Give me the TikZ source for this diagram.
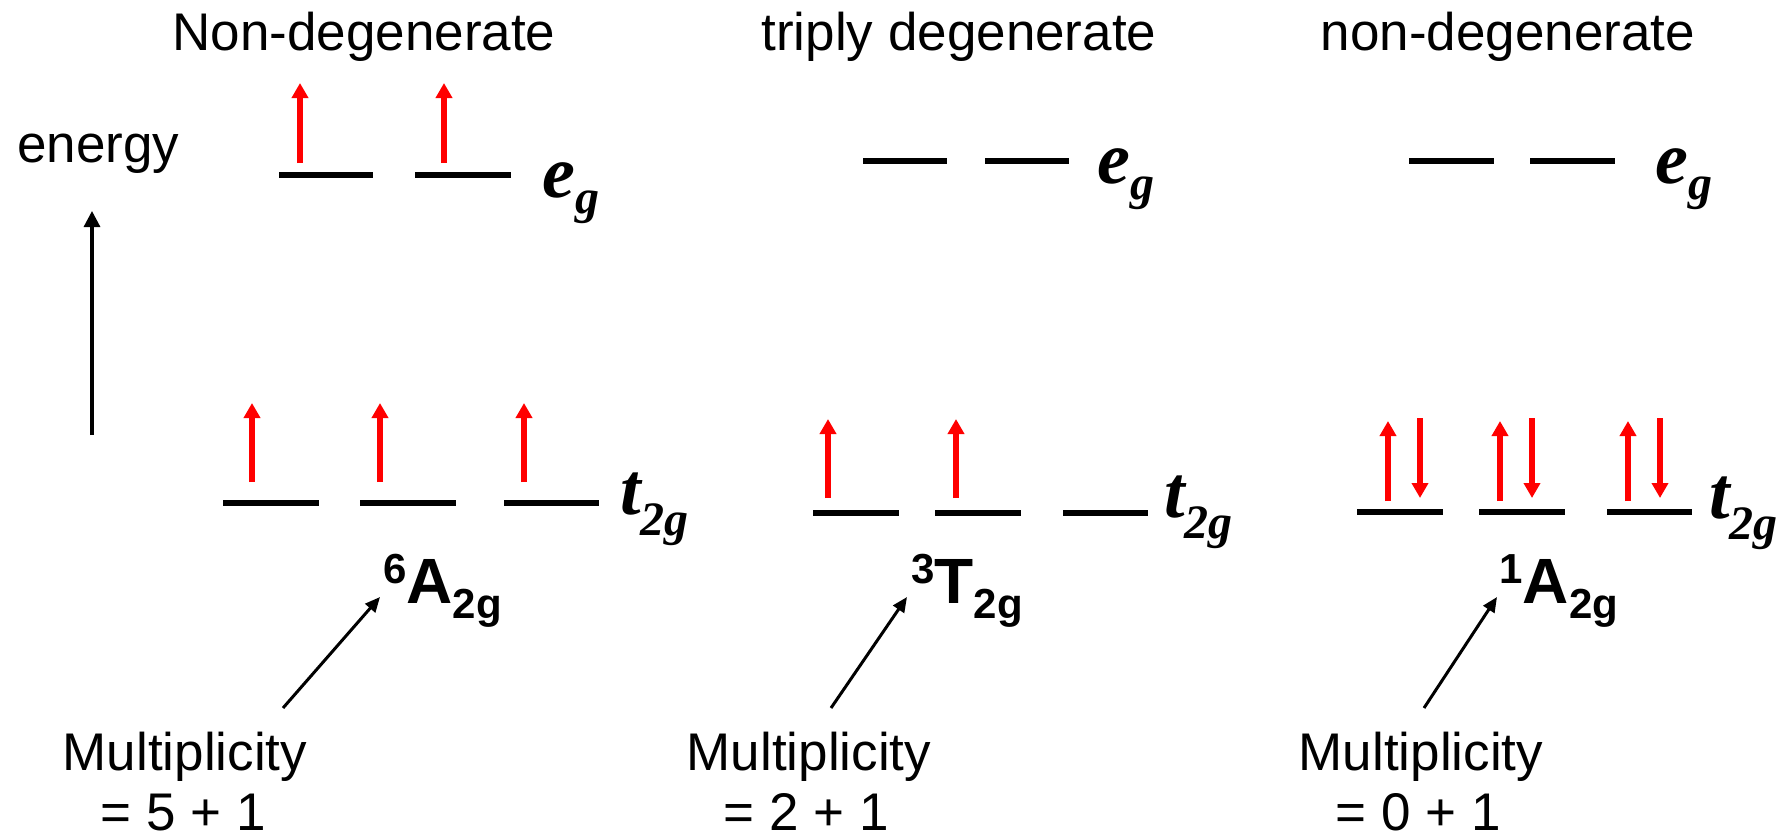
\documentclass[tikz,border=0pt]{standalone}
\usepackage{fontspec}
\setmainfont{Liberation Sans}
\newfontfamily\orbf{Liberation Serif}
\usetikzlibrary{arrows.meta}
\tikzset{
  level/.style={line width=3.35pt},
  spin/.style={red, line width=2.75pt, -{Triangle[width=8pt,length=7.5pt]}},
  ptr/.style={line width=1.5pt, -{Triangle[width=6.5pt,length=7.5pt]}},
  txt/.style={inner sep=0pt, font=\fontsize{26.5}{31}\selectfont},
  orb/.style={inner sep=0pt, anchor=base west, font=\orbf\fontsize{37}{37}\selectfont\bfseries\itshape},
  state/.style={inner sep=0pt, anchor=base west, font=\fontsize{32}{32}\selectfont\bfseries},
}
\newcommand{\subg}[2]{\raisebox{-#1}{\fontsize{24}{24}\selectfont #2}}
\newcommand{\stlab}[2]{\raisebox{10pt}{\fontsize{21}{21}\selectfont #1}#2\raisebox{-7.5pt}{\fontsize{21}{21}\selectfont 2g}}
\begin{document}
\begin{tikzpicture}[x=0.5pt,y=-0.5pt]
\useasboundingbox (0,0) rectangle (1787,835);

% titles
\node[txt, anchor=base] (t1) at (364,50) {Non-degenerate};
\node[txt, anchor=base] (t2) at (959,50) {triply degenerate};
\node[txt, anchor=base] (t3) at (1508,50) {non-degenerate};

% energy axis
\node[txt, anchor=base west] (en) at (17,162) {energy};
\coordinate (ea) at (92,435);
\coordinate (eb) at (92,211);
\draw[line width=1.6pt, -{Triangle[width=8pt,length=8pt]}] (ea) -- (eb);

% ---------- column 1 ----------
\draw[level] (279,175) -- (373,175);
\draw[level] (415,175) -- (511,175);
\draw[spin] (300,163) -- (300,83);
\draw[spin] (444,163) -- (444,83);
\node[orb] (eg1) at (542,197) {e\subg{8pt}{g}};

\draw[level] (223,503) -- (319,503);
\draw[level] (360,503) -- (456,503);
\draw[level] (504,503) -- (599,503);
\draw[spin] (252,482) -- (252,403);
\draw[spin] (380,482) -- (380,403);
\draw[spin] (524,482) -- (524,403);
\node[orb] (tg1) at (620,514) {t\subg{10.5pt}{2g}};

\node[state] (s1) at (383,603) {\stlab{6}{A}};
\coordinate (p1a) at (283,708);
\coordinate (p1b) at (380,597);
\draw[ptr] (p1a) -- (p1b);
\node[txt, anchor=base] (m1) at (185,770) {Multiplicity};
\node[txt, anchor=base] (n1) at (183,830) {= 5 + 1};

% ---------- column 2 ----------
\draw[level] (863,161) -- (947,161);
\draw[level] (985,161) -- (1069,161);
\node[orb] (eg2) at (1097,183) {e\subg{8pt}{g}};

\draw[level] (813,513) -- (899,513);
\draw[level] (935,513) -- (1021,513);
\draw[level] (1063,513) -- (1148,513);
\draw[spin] (828,498) -- (828,419);
\draw[spin] (956,498) -- (956,419);
\node[orb] (tg2) at (1164,517) {t\subg{10.5pt}{2g}};

\node[state] (s2) at (911,603) {\stlab{3}{T}};
\coordinate (p2a) at (831,708);
\coordinate (p2b) at (907,597);
\draw[ptr] (p2a) -- (p2b);
\node[txt, anchor=base] (m2) at (809,770) {Multiplicity};
\node[txt, anchor=base] (n2) at (806,830) {= 2 + 1};

% ---------- column 3 ----------
\draw[level] (1409,161) -- (1494,161);
\draw[level] (1530,161) -- (1615,161);
\node[orb] (eg3) at (1655,183) {e\subg{8pt}{g}};

\draw[level] (1357,512) -- (1443,512);
\draw[level] (1479,512) -- (1565,512);
\draw[level] (1607,512) -- (1692,512);
\draw[spin] (1388,501) -- (1388,421);
\draw[spin] (1420,418) -- (1420,498);
\draw[spin] (1500,501) -- (1500,421);
\draw[spin] (1532,418) -- (1532,498);
\draw[spin] (1628,501) -- (1628,421);
\draw[spin] (1660,418) -- (1660,498);
\node[orb] (tg3) at (1709,518) {t\subg{10.5pt}{2g}};

\node[state] (s3) at (1499,603) {\stlab{1}{A}};
\coordinate (p3a) at (1424,708);
\coordinate (p3b) at (1497,597);
\draw[ptr] (p3a) -- (p3b);
\node[txt, anchor=base] (m3) at (1421,770) {Multiplicity};
\node[txt, anchor=base] (n3) at (1418,830) {= 0 + 1};
\end{tikzpicture}
\end{document}
